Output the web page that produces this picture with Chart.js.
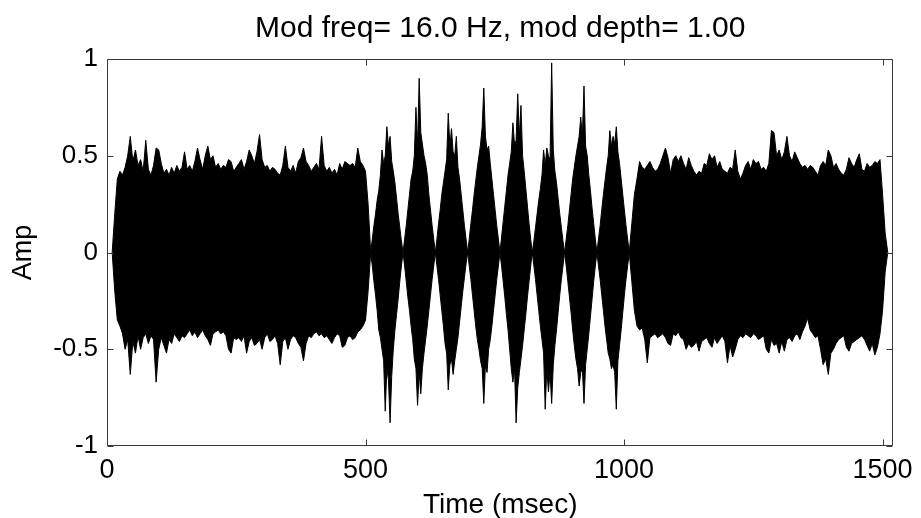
<!DOCTYPE html>
<html>
<head>
<meta charset="utf-8">
<script src="https://cdn.jsdelivr.net/npm/chart.js@4.4.1/dist/chart.umd.min.js"></script>
<style>
  html, body { margin: 0; padding: 0; background: #ffffff; }
  #wrap { width: 921px; height: 518px; }
</style>
</head>
<body>
<div id="wrap"><canvas id="c" width="921" height="518"></canvas></div>
<script>
// ---- Data (envelope of the waveform) ----
const chartTitle = 'Mod freq= 16.0 Hz, mod depth= 1.00';
const xAxisTitle = 'Time (msec)';
const yAxisTitle = 'Amp';
const xTicks = [0, 500, 1000, 1500];
const xTickLabels = ['0', '500', '1000', '1500'];
const yTicks = [-1, -0.5, 0, 0.5, 1];
const yTickLabels = ['-1', '-0.5', '0', '0.5', '1'];

// segment 1: unmodulated noise, 10..510 ms, one envelope value every 5 ms
const noise1Start = 10, noise1Step = 5;
const noise1Upper = [0, 0.2, 0.38, 0.42, 0.4, 0.44, 0.5, 0.6, 0.47, 0.53,
  0.45, 0.48, 0.42, 0.58, 0.43, 0.4, 0.45, 0.54, 0.53, 0.46,
  0.41, 0.43, 0.4, 0.44, 0.41, 0.45, 0.42, 0.44, 0.52, 0.43,
  0.45, 0.42, 0.47, 0.54, 0.48, 0.43, 0.5, 0.55, 0.48, 0.5,
  0.44, 0.46, 0.43, 0.45, 0.44, 0.48, 0.47, 0.42, 0.44, 0.46,
  0.48, 0.43, 0.47, 0.53, 0.5, 0.46, 0.52, 0.61, 0.48, 0.44,
  0.45, 0.42, 0.44, 0.43, 0.41, 0.4, 0.45, 0.55, 0.44, 0.42,
  0.45, 0.41, 0.47, 0.49, 0.54, 0.47, 0.45, 0.42, 0.44, 0.46,
  0.43, 0.6, 0.45, 0.42, 0.44, 0.41, 0.43, 0.4, 0.46, 0.43,
  0.47, 0.46, 0.45, 0.46, 0.44, 0.54, 0.47, 0.45, 0.42, 0.25, 0];
const noise1Lower = [0, -0.2, -0.35, -0.38, -0.42, -0.5, -0.45, -0.63, -0.46, -0.52,
  -0.43, -0.5, -0.44, -0.42, -0.47, -0.43, -0.45, -0.67, -0.5, -0.44,
  -0.48, -0.52, -0.45, -0.47, -0.42, -0.44, -0.46, -0.43, -0.44, -0.42,
  -0.4, -0.43, -0.41, -0.44, -0.42, -0.4, -0.43, -0.45, -0.48, -0.42,
  -0.41, -0.4, -0.42, -0.41, -0.43, -0.5, -0.52, -0.44, -0.45, -0.44,
  -0.46, -0.43, -0.52, -0.46, -0.44, -0.48, -0.47, -0.45, -0.5, -0.44,
  -0.42, -0.46, -0.45, -0.43, -0.47, -0.58, -0.46, -0.44, -0.5, -0.45,
  -0.43, -0.44, -0.47, -0.49, -0.56, -0.47, -0.43, -0.44, -0.42, -0.41,
  -0.43, -0.42, -0.44, -0.43, -0.45, -0.47, -0.44, -0.42, -0.43, -0.49,
  -0.48, -0.44, -0.43, -0.45, -0.44, -0.41, -0.4, -0.38, -0.35, -0.2, 0];

// segment 2: 16 Hz amplitude-modulated noise, 510..1010 ms, 20 values per 62.5 ms cycle
const modStart = 510, modStep = 3.125;
const modUpper = [
  0, 0.07, 0.14, 0.2, 0.27, 0.32, 0.4, 0.53, 0.46, 0.5, 0.65, 0.55, 0.6, 0.47, 0.42, 0.36, 0.28, 0.2, 0.13, 0.06,
  0, 0.07, 0.14, 0.22, 0.3, 0.38, 0.42, 0.5, 0.75, 0.55, 0.9, 0.62, 0.56, 0.5, 0.46, 0.4, 0.3, 0.22, 0.14, 0.07,
  0, 0.07, 0.15, 0.22, 0.3, 0.36, 0.42, 0.48, 0.72, 0.55, 0.64, 0.52, 0.5, 0.6, 0.44, 0.38, 0.3, 0.22, 0.14, 0.07,
  0, 0.07, 0.15, 0.22, 0.3, 0.37, 0.44, 0.5, 0.56, 0.65, 0.85, 0.6, 0.53, 0.55, 0.46, 0.38, 0.3, 0.22, 0.14, 0.07,
  0, 0.08, 0.16, 0.24, 0.32, 0.4, 0.46, 0.52, 0.67, 0.56, 0.58, 0.82, 0.6, 0.76, 0.5, 0.42, 0.33, 0.24, 0.15, 0.07,
  0, 0.06, 0.13, 0.2, 0.27, 0.33, 0.4, 0.53, 0.45, 0.54, 0.5, 0.48, 0.98, 0.53, 0.42, 0.36, 0.28, 0.2, 0.13, 0.06,
  0, 0.07, 0.14, 0.22, 0.3, 0.38, 0.44, 0.5, 0.55, 0.6, 0.7, 0.6, 0.86, 0.55, 0.5, 0.4, 0.32, 0.23, 0.15, 0.07,
  0, 0.07, 0.14, 0.22, 0.3, 0.37, 0.44, 0.5, 0.63, 0.55, 0.6, 0.56, 0.65, 0.52, 0.46, 0.38, 0.3, 0.22, 0.14, 0.07,
  0];
const modLower = [
  0, -0.07, -0.15, -0.22, -0.3, -0.4, -0.44, -0.5, -0.56, -0.82, -0.6, -0.66, -0.88, -0.64, -0.5, -0.4, -0.32, -0.24, -0.15, -0.07,
  0, -0.07, -0.15, -0.23, -0.3, -0.38, -0.45, -0.55, -0.6, -0.79, -0.62, -0.73, -0.6, -0.52, -0.45, -0.38, -0.3, -0.22, -0.14, -0.07,
  0, -0.07, -0.14, -0.22, -0.3, -0.38, -0.47, -0.52, -0.71, -0.58, -0.55, -0.63, -0.56, -0.5, -0.44, -0.36, -0.28, -0.2, -0.13, -0.06,
  0, -0.07, -0.14, -0.22, -0.3, -0.38, -0.45, -0.5, -0.56, -0.6, -0.78, -0.58, -0.62, -0.5, -0.45, -0.38, -0.3, -0.22, -0.14, -0.07,
  0, -0.07, -0.15, -0.23, -0.32, -0.4, -0.5, -0.6, -0.67, -0.6, -0.88, -0.7, -0.62, -0.55, -0.48, -0.4, -0.32, -0.23, -0.15, -0.07,
  0, -0.07, -0.14, -0.22, -0.3, -0.38, -0.45, -0.52, -0.81, -0.6, -0.72, -0.62, -0.78, -0.58, -0.48, -0.4, -0.31, -0.22, -0.14, -0.07,
  0, -0.07, -0.15, -0.23, -0.31, -0.4, -0.48, -0.55, -0.6, -0.69, -0.62, -0.6, -0.78, -0.58, -0.5, -0.42, -0.33, -0.24, -0.15, -0.07,
  0, -0.07, -0.14, -0.22, -0.3, -0.38, -0.45, -0.52, -0.55, -0.6, -0.58, -0.62, -0.81, -0.56, -0.48, -0.4, -0.31, -0.22, -0.14, -0.07,
  0];

// segment 3: unmodulated noise, 1010..1510 ms, one envelope value every 5 ms
const noise2Start = 1010, noise2Step = 5;
const noise2Upper = [0, 0.15, 0.3, 0.38, 0.47, 0.44, 0.43, 0.45, 0.47, 0.44,
  0.42, 0.43, 0.46, 0.5, 0.54, 0.49, 0.41, 0.48, 0.5, 0.47,
  0.5, 0.46, 0.43, 0.49, 0.45, 0.42, 0.4, 0.42, 0.41, 0.46,
  0.45, 0.51, 0.48, 0.5, 0.44, 0.47, 0.43, 0.42, 0.41, 0.44,
  0.43, 0.53, 0.42, 0.38, 0.41, 0.45, 0.47, 0.43, 0.48, 0.46,
  0.47, 0.43, 0.44, 0.42, 0.46, 0.63, 0.62, 0.5, 0.53, 0.48,
  0.52, 0.6, 0.5, 0.47, 0.52, 0.49, 0.46, 0.44, 0.45, 0.43,
  0.45, 0.44, 0.42, 0.4, 0.45, 0.47, 0.45, 0.53, 0.5, 0.44,
  0.46, 0.43, 0.41, 0.4, 0.43, 0.49, 0.46, 0.44, 0.48, 0.51,
  0.43, 0.42, 0.46, 0.44, 0.45, 0.47, 0.46, 0.48, 0.3, 0.1, 0];
const noise2Lower = [0, -0.15, -0.3, -0.38, -0.4, -0.39, -0.45, -0.57, -0.44, -0.43,
  -0.42, -0.44, -0.43, -0.42, -0.44, -0.47, -0.48, -0.42, -0.43, -0.41,
  -0.44, -0.45, -0.5, -0.47, -0.49, -0.48, -0.46, -0.51, -0.46, -0.45,
  -0.44, -0.47, -0.49, -0.44, -0.47, -0.45, -0.43, -0.46, -0.57, -0.48,
  -0.54, -0.5, -0.45, -0.43, -0.44, -0.42, -0.43, -0.44, -0.42, -0.43,
  -0.45, -0.44, -0.43, -0.5, -0.52, -0.45, -0.48, -0.47, -0.52, -0.46,
  -0.51, -0.45, -0.44, -0.46, -0.43, -0.42, -0.45, -0.41, -0.38, -0.34,
  -0.4, -0.42, -0.44, -0.43, -0.5, -0.58, -0.55, -0.63, -0.52, -0.5,
  -0.47, -0.45, -0.44, -0.43, -0.49, -0.51, -0.47, -0.46, -0.45, -0.44,
  -0.43, -0.45, -0.48, -0.51, -0.47, -0.53, -0.49, -0.42, -0.3, -0.1, 0];

// ---- build {x,y} points from the arrays ----
function toPoints(start, step, vals) {
  return vals.map((v, i) => ({ x: start + i * step, y: v }));
}
const upperPts = [].concat(
  toPoints(noise1Start, noise1Step, noise1Upper),
  toPoints(modStart, modStep, modUpper),
  toPoints(noise2Start, noise2Step, noise2Upper));
const lowerPts = [].concat(
  toPoints(noise1Start, noise1Step, noise1Lower),
  toPoints(modStart, modStep, modLower),
  toPoints(noise2Start, noise2Step, noise2Lower));

const FONT = '"Liberation Sans", Arial, Helvetica, sans-serif';

// MATLAB-like box with inward ticks on all four sides
const framePlugin = {
  id: 'frame',
  afterDatasetsDraw(chart) {
    const { ctx, chartArea: a, scales } = chart;
    const L = Math.round(a.left) + 0.5, R = Math.round(a.right) - 0.5;
    const T = Math.round(a.top) + 0.5, B = Math.round(a.bottom) - 0.5;
    const tl = 6;
    ctx.save();
    ctx.strokeStyle = '#3a3a3a';
    ctx.lineWidth = 1;
    ctx.beginPath();
    ctx.rect(L, T, R - L, B - T);
    xTicks.forEach(v => {
      const px = Math.round(scales.x.getPixelForValue(v)) + 0.5;
      ctx.moveTo(px, B); ctx.lineTo(px, B - tl);
      ctx.moveTo(px, T); ctx.lineTo(px, T + tl);
    });
    yTicks.forEach(v => {
      const py = Math.round(scales.y.getPixelForValue(v)) + 0.5;
      ctx.moveTo(L, py); ctx.lineTo(L + tl, py);
      ctx.moveTo(R, py); ctx.lineTo(R - tl, py);
    });
    ctx.stroke();
    ctx.restore();
  }
};

new Chart(document.getElementById('c'), {
  type: 'line',
  data: {
    datasets: [
      { data: upperPts, borderColor: '#000', backgroundColor: '#000', borderWidth: 1,
        pointRadius: 0, tension: 0, fill: '+1' },
      { data: lowerPts, borderColor: '#000', backgroundColor: '#000', borderWidth: 1,
        pointRadius: 0, tension: 0, fill: false }
    ]
  },
  options: {
    responsive: false,
    animation: false,
    events: [],
    layout: { padding: { left: 0, right: 21, top: 0, bottom: 0 } },
    plugins: {
      legend: { display: false },
      tooltip: { enabled: false },
      title: {
        display: true, text: chartTitle, color: '#000', fullSize: false,
        font: { family: FONT, size: 30, weight: 'normal' },
        padding: { top: 11, bottom: 12 }
      }
    },
    scales: {
      x: {
        type: 'linear', min: 0, max: 1521,
        grid: { display: false, drawTicks: false },
        border: { display: false },
        afterBuildTicks: s => { s.ticks = xTicks.map(v => ({ value: v })); },
        afterFit: s => { s.height = 72; },
        ticks: {
          color: '#000', padding: 8, maxRotation: 0,
          font: { family: FONT, size: 27 },
          callback: v => xTickLabels[xTicks.indexOf(v)]
        },
        title: {
          display: true, text: xAxisTitle, color: '#000',
          font: { family: FONT, size: 28 },
          padding: { top: 0, bottom: -4 }
        }
      },
      y: {
        type: 'linear', min: -1, max: 1,
        grid: { display: false, drawTicks: false },
        border: { display: false },
        afterBuildTicks: s => { s.ticks = yTicks.map(v => ({ value: v })); },
        afterFit: s => { s.width = 107; },
        ticks: {
          color: '#000', padding: 9,
          font: { family: FONT, size: 26 },
          callback: v => yTickLabels[yTicks.indexOf(v)]
        },
        title: {
          display: true, text: yAxisTitle, color: '#000',
          font: { family: FONT, size: 27 },
          padding: { top: 7, bottom: 0 }
        }
      }
    }
  },
  plugins: [framePlugin]
});
</script>
</body>
</html>
